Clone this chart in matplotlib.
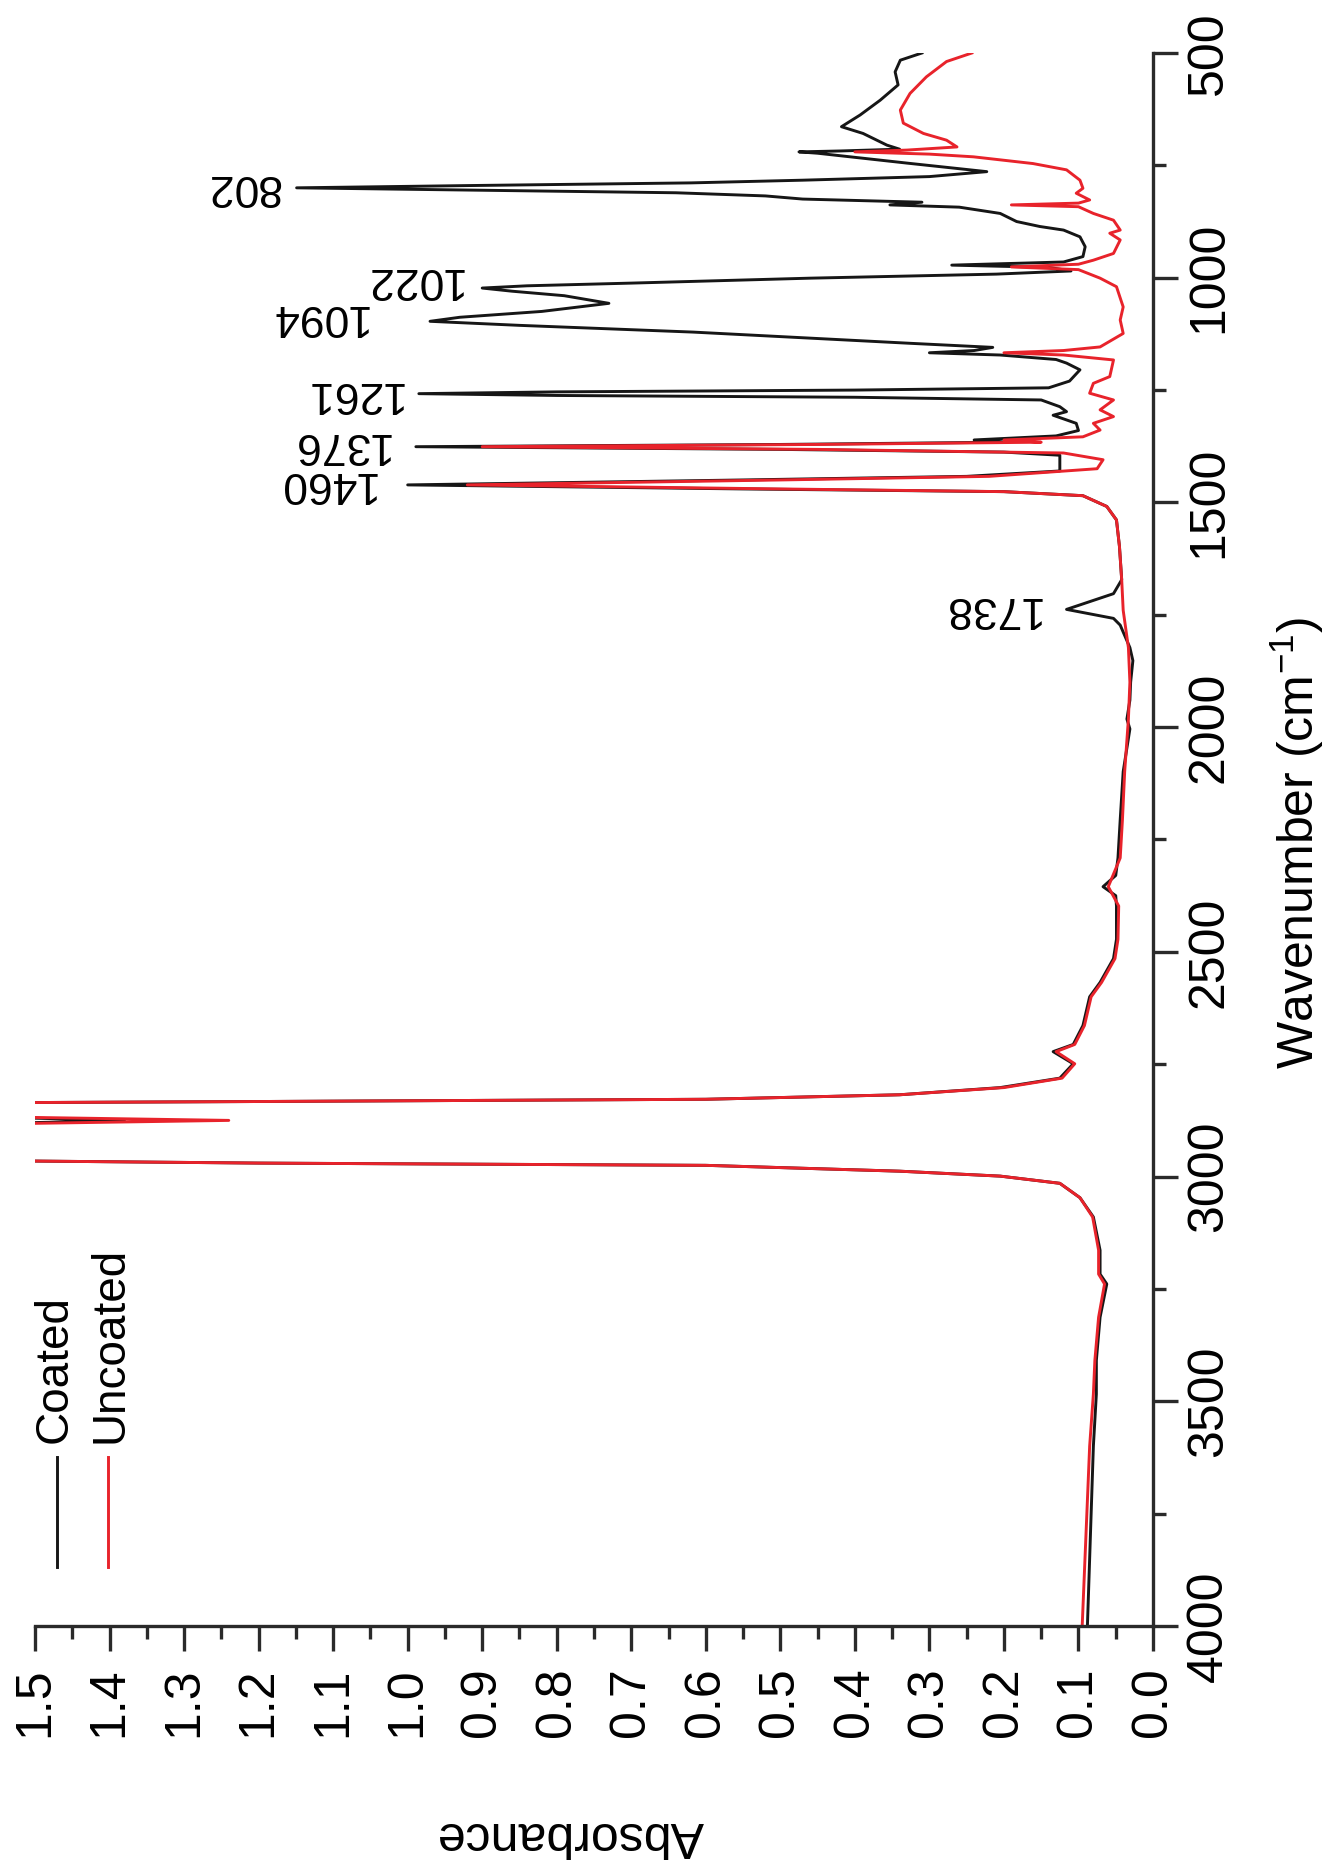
import matplotlib
matplotlib.use('Agg')
import matplotlib.pyplot as plt
from matplotlib.lines import Line2D
from matplotlib.ticker import MultipleLocator, FormatStrFormatter

plt.rcParams['font.family'] = ['Liberation Sans', 'DejaVu Sans']
plt.rcParams['mathtext.fontset'] = 'custom'
plt.rcParams['mathtext.rm'] = 'Liberation Sans'

# FTIR spectra (wavenumber in cm-1, absorbance)
coated_wn = [500, 516, 542, 571, 605, 638, 664, 679, 705, 714, 718, 720, 723, 745, 764,
             775, 783, 789, 795, 800, 805, 811, 818, 825, 832, 838, 843, 857, 875, 886, 894, 909,
             931, 953, 965, 972, 977, 985, 992, 1001, 1012, 1018, 1023, 1030, 1040, 1057, 1075, 1088,
             1097, 1106, 1121, 1146, 1155, 1162, 1167, 1172, 1182, 1190, 1205, 1230, 1245,
             1250, 1254, 1258, 1262, 1266, 1272, 1287, 1298, 1306, 1324, 1340, 1352, 1361,
             1366, 1371, 1376, 1382, 1388, 1395, 1430, 1442, 1450, 1461, 1470, 1476, 1485,
             1509, 1539, 1598, 1672, 1703, 1738, 1758, 1773, 1823, 1852, 1900, 1940, 1982,
             2004, 2099, 2206, 2291, 2330, 2355, 2375, 2398, 2472, 2515, 2568, 2600, 2664,
             2706, 2722, 2749, 2781, 2802, 2818, 2828, 2833, 2836, 2866, 2875, 2884, 2964,
             2970, 2975, 2988, 2999, 3015, 3047, 3090, 3164, 3217, 3239, 3313, 3409, 3484,
             3600, 3800, 4000]
coated_abs = [0.31, 0.339, 0.346, 0.342, 0.366, 0.393, 0.418, 0.389, 0.357, 0.34, 0.42, 0.475, 0.45, 0.33, 0.223,
              0.30, 0.47, 0.62, 0.92, 1.149, 0.92, 0.64, 0.52, 0.47, 0.31, 0.353, 0.26, 0.205, 0.183, 0.152, 0.12, 0.098,
              0.091, 0.094, 0.12, 0.27, 0.14, 0.11, 0.21, 0.46, 0.70, 0.84, 0.90, 0.86, 0.79, 0.73, 0.82, 0.93,
              0.97, 0.85, 0.617, 0.325, 0.215, 0.24, 0.30, 0.205, 0.13, 0.116, 0.098, 0.112, 0.14,
              0.40, 0.80, 0.985, 0.80, 0.40, 0.15, 0.125, 0.116, 0.134, 0.103, 0.10, 0.13, 0.24,
              0.20, 0.50, 0.989, 0.50, 0.20, 0.125, 0.125, 0.25, 0.55, 1.00, 0.55, 0.20, 0.094,
              0.062, 0.049, 0.045, 0.042, 0.053, 0.116, 0.053, 0.044, 0.031, 0.027, 0.030, 0.031, 0.035,
              0.031, 0.040, 0.044, 0.047, 0.050, 0.067, 0.050, 0.049, 0.049, 0.053, 0.071, 0.085, 0.094,
              0.107, 0.134, 0.107, 0.125, 0.205, 0.34, 0.6, 1.2, 1.6, 1.6, 1.38, 1.6, 1.6,
              1.2, 0.6, 0.34, 0.205, 0.125, 0.098, 0.080, 0.071, 0.071, 0.062, 0.071, 0.076, 0.076,
              0.080, 0.084, 0.088]

uncoated_wn = [500, 519, 553, 590, 627, 656, 679, 694, 709, 716, 720, 725, 731, 746, 760,
               783, 801, 812, 827, 834, 838, 842, 857, 872, 894, 901, 916, 946, 961, 970,
               976, 982, 1001, 1020, 1065, 1094, 1124, 1154, 1162, 1167, 1172, 1183, 1220, 1235,
               1257, 1272, 1294, 1309, 1324, 1339, 1354, 1361, 1366, 1371, 1376, 1382, 1390, 1405,
               1425, 1442, 1450, 1461, 1470, 1476, 1485, 1509, 1539, 1598, 1672, 1740, 1823, 1900,
               1982, 2099, 2206, 2291, 2355, 2398, 2472, 2515, 2568, 2600, 2664, 2706, 2722, 2749,
               2781, 2802, 2818, 2828, 2833, 2836, 2866, 2875, 2884, 2964, 2970, 2975, 2988, 2999,
               3015, 3047, 3090, 3164, 3217, 3239, 3313, 3409, 3484, 3600, 3800, 4000]
uncoated_abs = [0.243, 0.277, 0.304, 0.326, 0.339, 0.335, 0.308, 0.277, 0.263, 0.33, 0.40, 0.30, 0.241, 0.161, 0.116,
                0.098, 0.094, 0.103, 0.085, 0.10, 0.19, 0.10, 0.080, 0.053, 0.044, 0.058, 0.044, 0.053, 0.080, 0.10,
                0.19, 0.10, 0.071, 0.049, 0.040, 0.044, 0.040, 0.071, 0.12, 0.20, 0.12, 0.053, 0.058, 0.080,
                0.085, 0.053, 0.071, 0.053, 0.080, 0.071, 0.094, 0.20, 0.15, 0.45, 0.90, 0.45, 0.12, 0.067,
                0.075, 0.22, 0.50, 0.92, 0.50, 0.20, 0.094, 0.062, 0.049, 0.045, 0.042, 0.040, 0.033, 0.031,
                0.033, 0.038, 0.041, 0.044, 0.060, 0.046, 0.047, 0.051, 0.069, 0.083, 0.092, 0.105, 0.130, 0.105,
                0.122, 0.20, 0.34, 0.6, 1.2, 1.6, 1.6, 1.24, 1.6, 1.6, 1.2, 0.6, 0.34, 0.205,
                0.125, 0.098, 0.081, 0.073, 0.073, 0.065, 0.073, 0.078, 0.080, 0.085, 0.090, 0.095]

# peak labels: text, wavenumber and absorbance where the label ends
peak_text = ['802', '1022', '1094', '1261', '1376', '1460', '1738']
peak_wn = [797, 1005, 1087, 1257, 1372, 1457, 1737]
peak_abs = [1.171, 0.927, 1.055, 1.008, 1.025, 1.044, 0.152]

series_names = ['Coated', 'Uncoated']
series_colors = ['#161616', '#e8232b']

W, H = 1327, 1870


def fx(px):
    # pixel column -> figure fraction
    return px / W


def fy(py):
    # pixel row (from top) -> figure fraction
    return 1 - py / H


fig = plt.figure(figsize=(W / 100, H / 100), dpi=100)
ax = fig.add_axes([fx(35), fy(1626), fx(1153) - fx(35), fy(53) - fy(1626)])

# chart is drawn turned a quarter turn: absorbance across, wavenumber down the side
ax.plot(coated_abs, coated_wn, color=series_colors[0], lw=2.1)
ax.plot(uncoated_abs, uncoated_wn, color=series_colors[1], lw=2.1)

ax.set_xlim(1.5, 0)
ax.set_ylim(4000, 500)

for s in ['top', 'left']:
    ax.spines[s].set_visible(False)
for s in ['bottom', 'right']:
    ax.spines[s].set_linewidth(2.4)
    ax.spines[s].set_color('#2a2a2a')

ax.yaxis.tick_right()
ax.xaxis.set_major_locator(MultipleLocator(0.1))
ax.xaxis.set_minor_locator(MultipleLocator(0.05))
ax.xaxis.set_major_formatter(FormatStrFormatter('%.1f'))
ax.yaxis.set_major_locator(MultipleLocator(500))
ax.yaxis.set_minor_locator(MultipleLocator(250))
ax.tick_params(which='major', direction='out', length=18, width=2.4, color='#2a2a2a',
               labelsize=36, pad=8)
ax.tick_params(which='minor', direction='out', length=9, width=2.4, color='#2a2a2a')
ax.tick_params(axis='x', labelrotation=90, pad=12)
ax.tick_params(axis='y', labelrotation=90, pad=6)
for t in ax.get_yticklabels():
    t.set_va('center')

# peak labels, upside down like the rest of the turned chart
for txt, wn, ab in zip(peak_text, peak_wn, peak_abs):
    ax.text(ab, wn, txt, rotation=180, ha='right', va='center', fontsize=32)

fig.text(fx(570), fy(1835), 'Absorbance', rotation=180, ha='center', va='center', fontsize=36)
fig.text(fx(1297), fy(843), 'Wavenumber (cm$^{-1}$)', rotation=90, ha='center', va='center',
         fontsize=36)

# legend, also turned
leg_x = [57, 108]
leg_tx = [55, 110]
for i in range(2):
    fig.add_artist(Line2D([fx(leg_x[i])] * 2, [fy(1457), fy(1567)], color=series_colors[i],
                          lw=2.1, transform=fig.transFigure))
    fig.text(fx(leg_tx[i]), fy(1443), series_names[i], rotation=90, ha='center', va='bottom',
             fontsize=33)

fig.savefig('out.png', dpi=100)
